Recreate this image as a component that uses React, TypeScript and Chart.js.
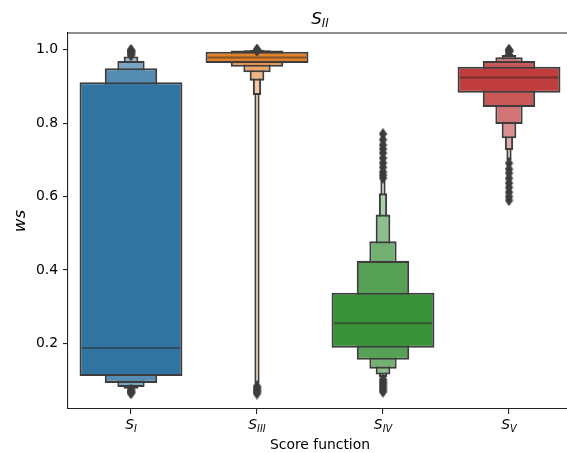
import React, { useEffect, useRef } from 'react';
import { Chart, registerables } from 'chart.js';

Chart.register(...registerables);

// ---------------- data ----------------
const categories = ['S_I', 'S_III', 'S_IV', 'S_V'];
const subscripts = ['I', 'III', 'IV', 'V'];
const baseColors = ['#3274a1', '#e1812c', '#3a923a', '#c03d3e'];
const colorLevels = [6, 7, 7, 7];

// letter-value boxes [low, high], innermost (IQR) box first
const boxesSI = [[0.111, 0.912], [0.092, 0.95], [0.081, 0.97], [0.076, 0.982]];
const boxesSIII = [[0.964, 0.995], [0.954, 0.998], [0.939, 0.999], [0.916, 0.9995], [0.877, 1.0], [0.091, 1.0]];
const boxesSIV = [[0.188, 0.338], [0.155, 0.425], [0.131, 0.478], [0.115, 0.551], [0.108, 0.609], [0.105, 0.647]];
const boxesSV = [[0.883, 0.954], [0.844, 0.97], [0.798, 0.98], [0.759, 0.986], [0.727, 0.99], [0.7, 0.993]];
const allBoxes = [boxesSI, boxesSIII, boxesSIV, boxesSV];

const medians = [0.187, 0.979, 0.255, 0.925];

const outliersSI = [1.0, 0.998, 0.996, 0.994, 0.991, 0.988, 0.985, 0.074, 0.071, 0.068, 0.066, 0.064];
const outliersSIII = [1.0, 0.9995, 0.999, 0.083, 0.079, 0.075, 0.071, 0.067, 0.063];
const outliersSIV = [0.651, 0.659, 0.667, 0.68, 0.692, 0.705, 0.719, 0.73, 0.741, 0.755, 0.771,
  0.102, 0.097, 0.092, 0.087, 0.082, 0.077, 0.072, 0.068];
const outliersSV = [0.995, 0.997, 0.999, 1.0, 0.691, 0.675, 0.664, 0.65, 0.637, 0.625, 0.612, 0.6, 0.59];
const allOutliers = [outliersSI, outliersSIII, outliersSIV, outliersSV];

const yTicks = [0.2, 0.4, 0.6, 0.8, 1.0];
const yMin = 0.021;
const yMax = 1.046;

const titleMain = 'S';
const titleSub = 'II';
const xTitle = 'Score function';
const yTitle = 'ws';

// ---------------- styles ----------------
const EDGE = '#3d3d3d';
const LW = 2.1;
const FONT = "'DejaVu Sans'";

function mixWhite(hex: string, t: number) {
  const r = parseInt(hex.slice(1, 3), 16);
  const g = parseInt(hex.slice(3, 5), 16);
  const b = parseInt(hex.slice(5, 7), 16);
  const m = (c: number) => Math.round(c + (255 - c) * t);
  return `rgb(${m(r)},${m(g)},${m(b)})`;
}

function makeDiamond() {
  const c = document.createElement('canvas');
  c.width = 9;
  c.height = 12;
  const ctx = c.getContext('2d')!;
  ctx.fillStyle = EDGE;
  ctx.beginPath();
  ctx.moveTo(4.5, 0);
  ctx.lineTo(8.6, 6);
  ctx.lineTo(4.5, 12);
  ctx.lineTo(0.4, 6);
  ctx.closePath();
  ctx.fill();
  return c;
}

function drawMath(ctx: CanvasRenderingContext2D, main: string, sub: string, cx: number, baseline: number,
  size: number, subSize: number, shift: number) {
  ctx.font = `italic ${size}px ${FONT}`;
  const w1 = ctx.measureText(main).width;
  ctx.font = `italic ${subSize}px ${FONT}`;
  const w2 = ctx.measureText(sub).width;
  const x = cx - (w1 + w2) / 2;
  ctx.textAlign = 'left';
  ctx.textBaseline = 'alphabetic';
  ctx.fillStyle = '#000';
  ctx.font = `italic ${size}px ${FONT}`;
  ctx.fillText(main, x, baseline);
  ctx.font = `italic ${subSize}px ${FONT}`;
  ctx.fillText(sub, x + w1, baseline + shift);
}

const customPlugin = {
  id: 'customDraw',
  afterDatasetsDraw(chart: any) {
    const { ctx, scales } = chart;
    const xs = scales.x;
    const ys = scales.y;
    const catW = xs.getPixelForValue(1) - xs.getPixelForValue(0);
    ctx.save();
    ctx.strokeStyle = 'rgba(38,38,38,0.5)';
    ctx.lineWidth = 2;
    medians.forEach((m, i) => {
      const cx = xs.getPixelForValue(i);
      const y = ys.getPixelForValue(m);
      ctx.beginPath();
      ctx.moveTo(cx - catW * 0.4 + LW / 2, y);
      ctx.lineTo(cx + catW * 0.4 - LW / 2, y);
      ctx.stroke();
    });
    ctx.restore();
  },
  afterDraw(chart: any) {
    const { ctx, chartArea, scales } = chart;
    const xs = scales.x;
    ctx.save();
    // top and right spines
    ctx.strokeStyle = '#222';
    ctx.lineWidth = 1.1;
    ctx.beginPath();
    ctx.moveTo(chartArea.left, chartArea.top);
    ctx.lineTo(chartArea.right, chartArea.top);
    ctx.lineTo(chartArea.right, chartArea.bottom);
    ctx.stroke();
    // x tick labels
    subscripts.forEach((s, i) => {
      const cx = xs.getPixelForValue(i);
      drawMath(ctx, 'S', s, cx, chartArea.bottom + 20, 13.9, 9.7, 2.5);
    });
    // title
    drawMath(ctx, titleMain, titleSub, (chartArea.left + chartArea.right) / 2, chartArea.top - 9, 16.7, 11.7, 3);
    // x title
    ctx.font = `13.9px ${FONT}`;
    ctx.textAlign = 'center';
    ctx.textBaseline = 'alphabetic';
    ctx.fillStyle = '#000';
    ctx.fillText(xTitle, (chartArea.left + chartArea.right) / 2, chartArea.bottom + 40);
    // y title
    ctx.translate(25, (chartArea.top + chartArea.bottom) / 2);
    ctx.rotate(-Math.PI / 2);
    ctx.font = `italic 16.7px ${FONT}`;
    ctx.fillText(yTitle, 0, 0);
    ctx.restore();
  },
};

export default function App() {
  const ref = useRef<HTMLCanvasElement | null>(null);

  useEffect(() => {
    if (!ref.current) return;
    const maxLevels = Math.max(...allBoxes.map((b) => b.length));
    const barDatasets: any[] = [];
    for (let j = 0; j < maxLevels; j++) {
      barDatasets.push({
        type: 'bar',
        label: `level${j}`,
        data: allBoxes.map((b) => (b[j] ? b[j] : null)),
        backgroundColor: allBoxes.map((b, c) => mixWhite(baseColors[c], (0.85 * j) / (colorLevels[c] - 1))),
        borderColor: EDGE,
        borderWidth: LW,
        borderSkipped: false,
        grouped: false,
        barPercentage: 0.8 / Math.pow(2, j) + LW / 126,
        categoryPercentage: 1,
        order: j + 1,
      });
    }
    const diamond = makeDiamond();
    const scatterData: any[] = [];
    allOutliers.forEach((arr, c) => arr.forEach((v) => scatterData.push({ x: categories[c], y: v })));
    const scatterDataset = {
      type: 'scatter',
      label: 'outliers',
      data: scatterData,
      pointStyle: diamond,
      pointRadius: 5,
      backgroundColor: EDGE,
      borderColor: EDGE,
      order: 0,
    };

    const chart = new Chart(ref.current, {
      type: 'bar',
      data: { labels: categories, datasets: [...barDatasets, scatterDataset] as any },
      options: {
        animation: false,
        responsive: false,
        devicePixelRatio: 1,
        layout: { padding: { top: 33, right: 8, left: 0, bottom: 0 } },
        plugins: {
          legend: { display: false },
          tooltip: { enabled: false },
          title: { display: false },
        },
        scales: {
          x: {
            type: 'category',
            offset: true,
            grid: { offset: false, drawOnChartArea: false, drawTicks: true, tickLength: 5, color: '#222', lineWidth: 1.1 },
            border: { display: true, color: '#222', width: 1.1 },
            ticks: { display: false },
            afterFit: (s: any) => { s.height = 44; },
          },
          y: {
            type: 'linear',
            min: yMin,
            max: yMax,
            afterBuildTicks: (s: any) => { s.ticks = yTicks.map((v) => ({ value: v })); },
            ticks: {
              callback: (v: any) => Number(v).toFixed(1),
              font: { family: 'DejaVu Sans', size: 13.9 },
              color: '#000',
              padding: 5,
            },
            grid: { drawOnChartArea: false, drawTicks: true, tickLength: 5, color: '#222', lineWidth: 1.1 },
            border: { display: true, color: '#222', width: 1.1 },
            afterFit: (s: any) => { s.width = 68; },
          },
        },
      } as any,
      plugins: [customPlugin],
    });
    return () => chart.destroy();
  }, []);

  return (
    <div style={{ position: 'fixed', top: 0, left: 0, width: 567, height: 453, overflow: 'hidden', background: '#fff' }}>
      <canvas ref={ref} width={580} height={453} style={{ display: 'block', width: 580, height: 453 }} />
    </div>
  );
}
